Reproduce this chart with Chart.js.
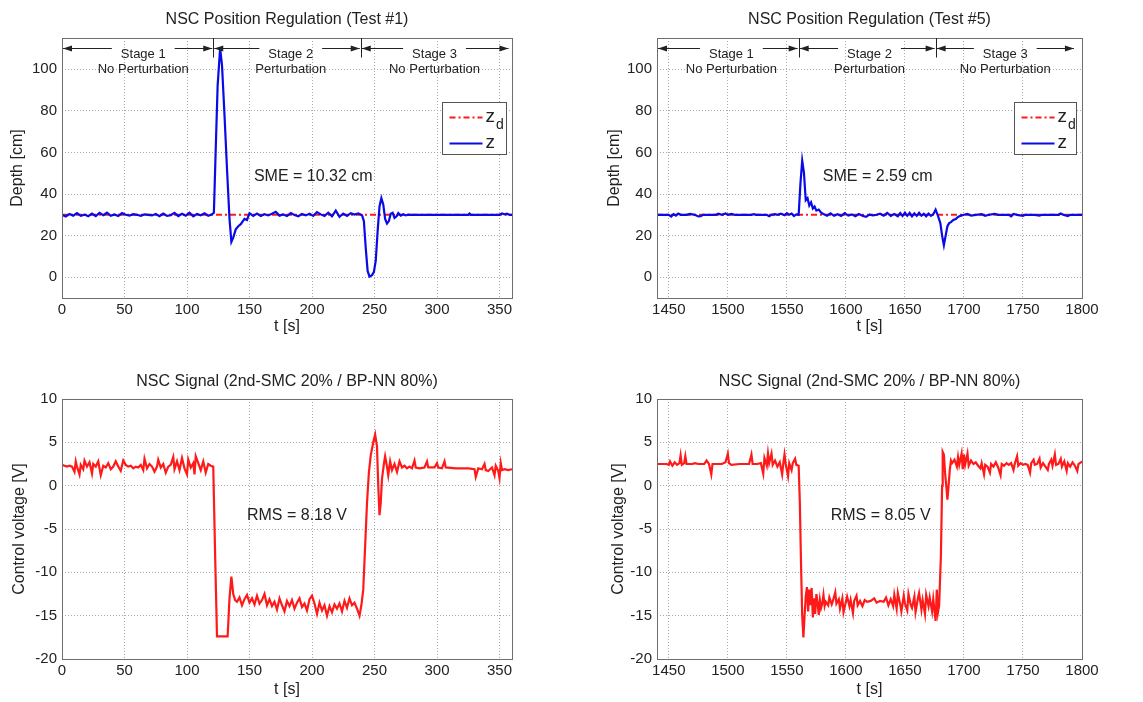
<!DOCTYPE html>
<html>
<head>
<meta charset="utf-8">
<script src="https://cdn.jsdelivr.net/npm/chart.js@4.4.0/dist/chart.umd.min.js"></script>
<style>
  body { margin: 0; background: #fff; width: 1143px; height: 702px; position: relative; overflow: hidden; }
  canvas { position: absolute; }
</style>
</head>
<body>
<canvas id="depth1" width="530" height="345" style="left:0;top:0"></canvas>
<canvas id="depth5" width="563" height="345" style="left:580px;top:0"></canvas>
<canvas id="volt1" width="530" height="352" style="left:0;top:350px"></canvas>
<canvas id="volt5" width="563" height="352" style="left:580px;top:350px"></canvas>
<script>
// tick labels
const xTicksTest1 = [0, 50, 100, 150, 200, 250, 300, 350];
const xTicksTest5 = [1450, 1500, 1550, 1600, 1650, 1700, 1750, 1800];
const yTicksDepth = [0, 20, 40, 60, 80, 100];
const yTicksVolt = [-20, -15, -10, -5, 0, 5, 10];

// stages
const stageNames = ["Stage 1", "Stage 2", "Stage 3"];
const stageSubs = ["No Perturbation", "Perturbation", "No Perturbation"];
const stageBounds1 = [0, 121, 239, 358];
const stageBounds5 = [1440, 1560, 1676, 1794];
const stageLabelX1 = [65, 183, 298];
const stageLabelX5 = [1503, 1620, 1735];

// desired depth z_d [cm]
const zdTest1 = [[0, 30], [360, 30]];
const zdTest5 = [[1440, 30], [1800, 30]];

// measured depth z [cm], [t, z]
const zTest1 = [
  [0,30.0],[3,29.2],[6,30.4],[9,29.6],[12,30.8],[15,29.5],[18,30.1],[21,29.3],[24,30.6],[27,29.4],
  [30,30.9],[33,29.8],[36,31.0],[39,29.5],[42,30.2],[45,29.4],[48,30.8],[51,30.0],[54,29.6],[57,30.3],
  [60,30.0],[63,29.5],[66,30.2],[69,30.0],[72,29.7],[75,30.4],[78,29.3],[81,30.6],[84,29.5],[87,29.8],
  [90,30.9],[93,29.4],[96,30.5],[99,29.6],[102,31.0],[105,29.3],[108,30.4],[111,29.8],[114,30.7],[117,29.5],[120,30.2],
  [121.5,31],[123,62],[124.5,92],[126.5,110],[128,102],[130,78],[132,52],[134,28],[135.5,17],[137,19],
  [139,23],[141,24.5],[143,25.5],[146,28],[148,27.5],[150,30.8],
  [153,29.5],[156,30.6],[159,29.4],[162,30.3],[165,29.7],[168,30.5],[171,31.4],[174,29.6],[177,30.2],[180,29.4],
  [183,30.8],[186,29.9],[189,29.3],[192,30.4],[195,29.7],[198,30.5],[201,29.5],[204,31.3],[207,30.2],[210,29.4],
  [213,31.0],[216,29.3],[219,32.0],[222,29.0],[225,30.6],[228,29.5],[231,30.8],[234,30.1],[237,30.7],[240,29.8],
  [241.5,27],[243,14],[244.5,3],[246,0.3],[248,1],[249.5,2.5],[251,8],[252.5,22],[254,34],[255.5,38],
  [257,35],[258.5,28],[260,25.8],[261.5,27],[263,30.5],[264.5,31],[266,28.5],[267.5,29.2],[269,30.8],[271,29.6],
  [273,30.3],[275,29.7],[277,30.1],[280,30],[300,30],[325,30],[326,30.6],[327,30],[350,30],[352,30.6],
  [354,30.2],[356,30.5],[358,30],[360,30]
];
const zTest5 = [
  [1440,30],[1450,30],[1452,29.2],[1454,30.3],[1456,29.6],[1458,30.6],[1460,30],[1465,30],[1468,30.4],[1472,30],
  [1475,29.2],[1477,29.3],[1479,30],[1490,30],[1492,30.5],[1495,30],[1498,30.6],[1500,30],[1503,30.4],[1506,30],
  [1520,30],[1522,30.3],[1524,30],[1533,30],[1535,29.3],[1537,30],[1540,30.3],[1542,30],[1545,30.5],[1548,29.8],
  [1550,30.8],[1552,30],[1554,30.6],[1556,29.4],[1558,30.2],[1560,30],
  [1561.5,45],[1563,56],[1564.5,50],[1566,37],[1567.5,38],[1569,34.5],[1570.5,36],[1572,33],[1573.5,34],[1575,32],
  [1577,32.5],[1579,31],[1581,30.4],
  [1584,29.6],[1587,30.7],[1590,29.5],[1593,30.3],[1596,29.4],[1599,30.8],[1602,29.6],[1605,30.2],[1608,29.3],[1611,30.4],
  [1614,29.5],[1617,29.0],[1620,30.1],[1623,29.7],[1626,30],[1629,30.5],[1632,29.6],[1635,30.9],[1638,29.5],[1641,30.4],
  [1644,29.3],[1646,30.8],[1648,29.4],[1650,31.0],[1652,29.5],[1654,30.9],[1656,29.2],[1658,30.7],[1660,29.5],[1662,31.0],
  [1664,29.6],[1666,30.5],[1668,29.3],[1670,30.6],[1672,29.5],[1674,30.3],[1676,32.5],[1678,29.5],
  [1680,26],[1681.5,20],[1683,15.4],[1684.5,20],[1686,24.5],[1687.5,26],[1689,26.5],[1691,27.5],[1693,28],[1695,29],
  [1697,29.5],[1700,30],
  [1703,30.4],[1706,29.6],[1710,30],[1715,30.3],[1718,29.5],[1721,30],[1726,30.5],[1729,30],[1738,30],[1740,29.3],
  [1742,30.4],[1745,30],[1750,29.5],[1752,30],[1760,30],[1764,29.6],[1766,30],[1780,30],[1782,30.6],[1784,30],
  [1788,29.4],[1790,30],[1800,30]
];

// control voltage [V], [t, u]
const uTest1 = [
  [0,2.4],[2,2.3],[4,2.2],[6,2.3],[8,2.2],[10,1.6],[11,2.8],[12,2.2],[14,1.3],[15,2.4],
  [17,1.9],[18,2.9],[20,2.2],[22,2.7],[24,1.4],[25,2.5],[27,2.2],[29,2.8],[31,1.2],[33,2.3],
  [35,2.1],[37,2.6],[39,1.9],[41,2.2],[43,2.8],[45,2.2],[47,1.7],[49,2.9],[51,2.4],[53,2.2],
  [55,2.3],[57,2.0],[59,2.2],[61,2.1],[63,2.4],[65,1.8],[66,3.1],[68,2.0],[70,2.5],[72,2.2],
  [74,1.6],[76,2.2],[77,3.0],[79,2.1],[81,2.5],[83,1.5],[85,2.2],[87,2.4],[89,3.3],[90,1.9],
  [92,2.8],[94,1.8],[96,3.2],[98,2.0],[100,1.3],[101,3.0],[103,2.1],[105,2.6],[106,1.3],[107,3.4],
  [109,2.6],[111,1.8],[113,2.8],[115,1.5],[117,2.5],[119,2.3],[121,2.2],
  [122.5,-8],[124,-17.4],[128,-17.4],[132.5,-17.4],[134,-13],[135.5,-10.5],[137,-12.5],[138.5,-13.2],
  [140,-13.4],[142,-12.9],[144,-13.8],[146,-13.1],[148,-12.6],[150,-13.5],[152,-13.0],[154,-13.7],[156,-12.7],[158,-13.6],
  [160,-13.2],[162,-12.5],[164,-13.8],[166,-13.1],[168,-13.9],[170,-13.4],[172,-14.3],[174,-13.0],[176,-13.8],[178,-14.5],
  [180,-13.3],[182,-13.9],[184,-13.2],[186,-14.2],[188,-13.5],[190,-13.0],[192,-14.0],[194,-13.6],[196,-14.4],[198,-13.1],
  [200,-12.7],[202,-13.6],[204,-14.8],[206,-13.5],[208,-14.4],[210,-13.8],[212,-15.0],[214,-13.9],[216,-14.6],[218,-13.7],
  [220,-14.2],[222,-13.6],[224,-14.5],[226,-13.3],[228,-14.1],[230,-13.0],[232,-13.8],[234,-13.5],[236,-14.2],[238,-15.0],
  [239.5,-13.8],
  [241,-12],[242.5,-7],[244,-2],[245.5,1.5],[247,3.5],[249,5],[250.5,5.9],[252,4.5],[253,0],[254,-3.4],
  [255,-2],[256,0.8],[257.5,2.5],[258.5,3.4],[260,2.2],[261,1.2],[262.5,2.8],[264,1.8],[266,2.5],[268,1.6],
  [270,2.8],[272,2.1],[274,2.3],[276,2.0],[278,2.2],[280,2.0],[282,2.9],[283,2.1],[286,2.0],[290,2.1],
  [292,2.8],[293,2.1],[298,2.1],[300,2.6],[301,2.1],[304,2.0],[306,2.8],[307,2.1],[315,2.0],[320,2.0],
  [325,2.0],[330,1.9],[331,1.0],[333,2.0],[336,1.9],[338,2.5],[339,1.8],[341,1.7],[344,2.1],[346,1.2],
  [347,2.3],[349,1.7],[350,0.9],[351,2.6],[352,1.8],[354,1.9],[357,1.8],[360,1.9]
];
const uTest5 = [
  [1440,2.5],[1448,2.5],[1450,2.4],[1451,2.8],[1453,2.3],[1455,2.7],[1457,2.4],[1459,2.6],[1460,3.5],[1461,2.4],
  [1463,2.6],[1464,3.4],[1465,2.5],[1470,2.5],[1472,2.6],[1475,2.5],[1480,2.5],[1482,2.9],[1484,2.5],[1486,1.3],
  [1487,2.5],[1495,2.5],[1498,2.7],[1500,3.7],[1501,2.6],[1503,2.4],[1510,2.5],[1518,2.5],[1520,3.6],[1521,2.5],
  [1525,2.5],[1528,2.6],[1530,1.4],[1531,3.2],[1533,2.3],[1534,3.7],[1535,2.6],[1537,3.7],[1538,2.4],[1540,2.9],
  [1542,2.2],[1544,2.7],[1546,1.3],[1547,2.6],[1548,3.6],[1549,2.5],[1551,1.1],[1552,2.6],[1554,1.8],[1555,2.6],
  [1557,3.1],[1558,2.4],[1560,2.3],
  [1561,-2],[1562,-9],[1563,-15],[1564,-17.5],[1565,-15],[1566,-12.8],[1567,-11.7],[1568,-14.5],[1569,-12],[1570,-13.8],
  [1571,-11.8],[1572,-15.2],[1573,-13],[1574,-14.8],[1575,-12.5],
  [1576,-13.5],[1577,-14.9],[1578,-13.2],[1579,-14.1],[1580,-13.6],[1581,-12.6],[1582,-13.9],[1583,-13.4],[1585,-13.8],[1586,-12.9],
  [1588,-13.7],[1589,-13.3],[1591,-12.3],[1592,-13.6],[1594,-13.1],[1595,-14.2],[1597,-13.0],[1598,-14.6],[1600,-13.4],[1601,-12.8],
  [1603,-13.9],[1604,-13.2],[1606,-14.7],[1607,-13.3],[1609,-12.7],[1610,-13.8],[1612,-13.3],[1614,-13.9],[1616,-13.2],[1618,-13.4],
  [1621,-13.3],[1624,-13.0],[1626,-13.5],[1629,-13.3],[1632,-13.4],[1634,-12.9],[1636,-13.8],[1638,-13.1],[1640,-13.9],[1641,-12.6],
  [1643,-14.2],[1644,-12.4],[1646,-13.7],[1647,-14.5],[1649,-12.7],[1650,-13.6],[1652,-14.4],[1653,-12.5],[1655,-13.8],[1656,-14.1],
  [1658,-12.8],[1659,-14.6],[1661,-13.0],[1662,-12.4],[1664,-14.3],[1665,-13.2],[1667,-14.8],[1668,-12.6],[1670,-13.9],[1671,-12.9],
  [1673,-14.5],[1674,-13.1],[1676,-15.6],[1677,-12.0],[1678,-14.6],[1679,-13.8],
  [1680.5,-8],[1681.5,0],[1682,3.9],[1683,3.6],[1684,1.5],[1685,0],[1686,-1.6],[1687,0],[1688,1.8],[1689,2.9],
  [1690,2.6],[1692,3.0],[1694,2.2],[1695,3.3],[1696,2.4],[1698,3.7],[1699,1.9],[1700,3.6],[1701,2.4],[1703,3.7],
  [1704,2.3],[1706,2.9],[1708,2.5],[1710,2.7],[1712,2.3],[1714,2.0],[1715,2.6],[1717,1.3],[1718,2.4],[1720,2.2],
  [1722,1.5],[1723,2.5],[1725,2.2],[1727,2.7],[1729,2.1],[1731,1.2],[1732,2.5],[1734,2.3],[1736,2.6],[1738,2.4],
  [1740,2.6],[1742,1.8],[1743,2.5],[1745,3.4],[1746,2.3],[1748,2.6],[1750,2.4],[1752,2.5],[1754,2.4],[1756,1.5],
  [1757,2.6],[1759,3.0],[1760,2.4],[1762,2.5],[1764,3.1],[1765,2.1],[1767,2.6],[1769,2.2],[1771,1.8],[1772,2.5],
  [1774,3.0],[1775,2.3],[1777,3.6],[1778,2.4],[1780,2.5],[1782,3.1],[1783,2.2],[1785,2.8],[1787,1.7],[1788,2.6],
  [1790,2.2],[1792,2.7],[1794,2.3],[1796,1.7],[1797,2.5],[1799,2.7],[1800,2.8]
];

const FONT = '"Liberation Sans", Arial, Helvetica, sans-serif';
const INK = "#222";
Chart.defaults.font.family = FONT;
Chart.defaults.color = INK;

const toXY = pts => pts.map(p => ({ x: p[0], y: p[1] }));

// box around the plot area, like matlab axes
const framePlugin = {
  id: "frame",
  afterDraw(chart) {
    const { ctx, chartArea: a } = chart;
    ctx.save();
    ctx.strokeStyle = "#6e6e6e";
    ctx.lineWidth = 1;
    ctx.strokeRect(Math.round(a.left) + 0.5, Math.round(a.top) + 0.5,
      Math.round(a.right - a.left), Math.round(a.bottom - a.top));
    ctx.restore();
  }
};

// stage arrows + labels on top of the depth plots
const stagePlugin = {
  id: "stages",
  afterDraw(chart, args, opts) {
    if (!opts || !opts.bounds) return;
    const { ctx, chartArea: a } = chart;
    const x = chart.scales.x, y = chart.scales.y;
    const yA = Math.round(y.getPixelForValue(opts.arrowAt)) + 0.5;
    const head = (px, dir) => {
      ctx.beginPath();
      ctx.moveTo(px, yA);
      ctx.lineTo(px - dir * 9, yA - 3);
      ctx.lineTo(px - dir * 9, yA + 3);
      ctx.closePath();
      ctx.fill();
    };
    const seg = (x0, x1) => {
      ctx.beginPath(); ctx.moveTo(x0, yA); ctx.lineTo(x1, yA); ctx.stroke();
    };
    ctx.save();
    ctx.strokeStyle = INK; ctx.fillStyle = INK; ctx.lineWidth = 1;
    ctx.font = "13px " + FONT;
    ctx.textAlign = "center"; ctx.textBaseline = "middle";
    for (let i = 0; i < opts.names.length; i++) {
      const x0 = x.getPixelForValue(opts.bounds[i]) + 1;
      const x1 = x.getPixelForValue(opts.bounds[i + 1]) - 1;
      const cx = x.getPixelForValue(opts.labelAt[i]);
      const w = ctx.measureText(opts.names[i]).width;
      seg(x0, cx - w / 2 - 9);
      seg(cx + w / 2 + 9, x1);
      head(x0, -1);
      head(x1, 1);
      ctx.fillText(opts.names[i], cx, yA + 6);
      ctx.fillText(opts.subs[i], cx, yA + 21);
    }
    for (let i = 1; i < opts.bounds.length - 1; i++) {
      const px = Math.round(x.getPixelForValue(opts.bounds[i])) + 0.5;
      ctx.beginPath(); ctx.moveTo(px, a.top); ctx.lineTo(px, yA + 9); ctx.stroke();
    }
    ctx.restore();
  }
};

// legend box inside the axes (z_d gets a subscript)
const boxLegendPlugin = {
  id: "boxLegend",
  afterDraw(chart, args, opts) {
    if (!opts || !opts.width) return;
    const { ctx, chartArea: a } = chart;
    const left = Math.round(a.right - opts.right - opts.width) + 0.5;
    const top = Math.round(a.top + opts.top) + 0.5;
    ctx.save();
    ctx.fillStyle = "#fff";
    ctx.strokeStyle = "#555";
    ctx.lineWidth = 1;
    ctx.fillRect(left, top, opts.width, opts.height);
    ctx.strokeRect(left, top, opts.width, opts.height);
    chart.data.datasets.forEach((ds, i) => {
      const ly = top + 15 + i * 26;
      ctx.strokeStyle = ds.borderColor;
      ctx.lineWidth = ds.borderWidth;
      ctx.setLineDash(ds.borderDash || []);
      ctx.beginPath(); ctx.moveTo(left + 7, ly); ctx.lineTo(left + 40, ly); ctx.stroke();
      ctx.setLineDash([]);
      const [main, sub] = ds.label.split("_");
      ctx.fillStyle = INK;
      ctx.textAlign = "left"; ctx.textBaseline = "middle";
      ctx.font = "19px " + FONT;
      ctx.fillText(main, left + 43, ly - 1);
      if (sub) {
        const mw = ctx.measureText(main).width;
        ctx.font = "14px " + FONT;
        ctx.fillText(sub, left + 44 + mw, ly + 8);
      }
    });
    ctx.restore();
  }
};

// SME / RMS annotation placed in data coordinates
const notePlugin = {
  id: "note",
  afterDraw(chart, args, opts) {
    if (!opts || !opts.text) return;
    const { ctx } = chart;
    ctx.save();
    ctx.fillStyle = INK;
    ctx.font = "16px " + FONT;
    ctx.textAlign = "center"; ctx.textBaseline = "middle";
    ctx.fillText(opts.text, chart.scales.x.getPixelForValue(opts.x), chart.scales.y.getPixelForValue(opts.y));
    ctx.restore();
  }
};

function axis(o) {
  return {
    type: "linear",
    min: o.min, max: o.max,
    afterFit: s => { if (o.width) s.width = o.width; if (o.height) s.height = o.height; },
    afterBuildTicks: s => { s.ticks = o.ticks.map(v => ({ value: v })); },
    grid: { color: "#a9a9a9", lineWidth: 1, drawTicks: false },
    border: { display: false, dash: [1, 2] },
    ticks: { color: INK, font: { size: 15 }, padding: o.tickPad, autoSkip: false, maxRotation: 0, callback: v => String(v) },
    title: { display: true, text: o.title, color: INK, font: { size: 16 }, padding: o.titlePad }
  };
}

function plot(id, cfg) {
  return new Chart(document.getElementById(id), {
    type: "line",
    data: { datasets: cfg.datasets },
    options: {
      responsive: false,
      animation: false,
      events: [],
      layout: { padding: { left: 0, top: 0, bottom: 0, right: cfg.padRight } },
      elements: { point: { radius: 0 }, line: { tension: 0 } },
      plugins: {
        legend: { display: false },
        tooltip: { enabled: false },
        title: {
          display: true, text: cfg.title, fullSize: false, color: INK,
          font: { size: 16, weight: "normal" }, padding: cfg.titlePad
        },
        stages: cfg.stages || {},
        boxLegend: cfg.boxLegend || {},
        note: cfg.note
      },
      scales: { x: axis(cfg.x), y: axis(cfg.y) }
    },
    plugins: [framePlugin, stagePlugin, boxLegendPlugin, notePlugin]
  });
}

function depthSets(zd, z) {
  return [
    { label: "z_d", data: toXY(zd), borderColor: "#ff1a1a", borderWidth: 2, borderDash: [6, 3, 2, 3], order: 1 },
    { label: "z", data: toXY(z), borderColor: "#0a0ae6", borderWidth: 2.2, order: 0 }
  ];
}

plot("depth1", {
  title: "NSC Position Regulation (Test #1)",
  titlePad: { top: 10.4, bottom: 8.4 },
  padRight: 18,
  datasets: depthSets(zdTest1, zTest1),
  x: { min: 0, max: 360, ticks: xTicksTest1, height: 47, tickPad: 3, title: "t [s]", titlePad: { top: 0, bottom: 8.4 } },
  y: { min: -10, max: 115, ticks: yTicksDepth, width: 62, tickPad: 5, title: "Depth [cm]", titlePad: { top: 8.4, bottom: 0 } },
  stages: { bounds: stageBounds1, labelAt: stageLabelX1, arrowAt: 110, names: stageNames, subs: stageSubs },
  boxLegend: { width: 64, height: 52, right: 6, top: 64 },
  note: { text: "SME = 10.32 cm", x: 201, y: 48.5 }
});

plot("depth5", {
  title: "NSC Position Regulation (Test #5)",
  titlePad: { top: 10.4, bottom: 8.4 },
  padRight: 61,
  datasets: depthSets(zdTest5, zTest5),
  x: { min: 1440, max: 1800, ticks: xTicksTest5, height: 47, tickPad: 3, title: "t [s]", titlePad: { top: 0, bottom: 8.4 } },
  y: { min: -10, max: 115, ticks: yTicksDepth, width: 77, tickPad: 5, title: "Depth [cm]", titlePad: { top: 25.4, bottom: 0 } },
  stages: { bounds: stageBounds5, labelAt: stageLabelX5, arrowAt: 110, names: stageNames, subs: stageSubs },
  boxLegend: { width: 62, height: 52, right: 6, top: 64 },
  note: { text: "SME = 2.59 cm", x: 1627, y: 48.5 }
});

plot("volt1", {
  title: "NSC Signal (2nd-SMC 20% / BP-NN 80%)",
  titlePad: { top: 22.1, bottom: 7.7 },
  padRight: 18,
  datasets: [{ label: "u", data: toXY(uTest1), borderColor: "#ff1a1a", borderWidth: 2.2 }],
  x: { min: 0, max: 360, ticks: xTicksTest1, height: 43, tickPad: 3, title: "t [s]", titlePad: { top: 0, bottom: 2.4 } },
  y: { min: -20, max: 10, ticks: yTicksVolt, width: 62, tickPad: 5, title: "Control voltage [V]", titlePad: { top: 10.4, bottom: 0 } },
  note: { text: "RMS = 8.18 V", x: 188, y: -3.4 }
});

plot("volt5", {
  title: "NSC Signal (2nd-SMC 20% / BP-NN 80%)",
  titlePad: { top: 22.1, bottom: 7.7 },
  padRight: 61,
  datasets: [{ label: "u", data: toXY(uTest5), borderColor: "#ff1a1a", borderWidth: 2.2 }],
  x: { min: 1440, max: 1800, ticks: xTicksTest5, height: 43, tickPad: 3, title: "t [s]", titlePad: { top: 0, bottom: 2.4 } },
  y: { min: -20, max: 10, ticks: yTicksVolt, width: 77, tickPad: 5, title: "Control voltage [V]", titlePad: { top: 29.4, bottom: 0 } },
  note: { text: "RMS = 8.05 V", x: 1629.5, y: -3.4 }
});
</script>
</body>
</html>
